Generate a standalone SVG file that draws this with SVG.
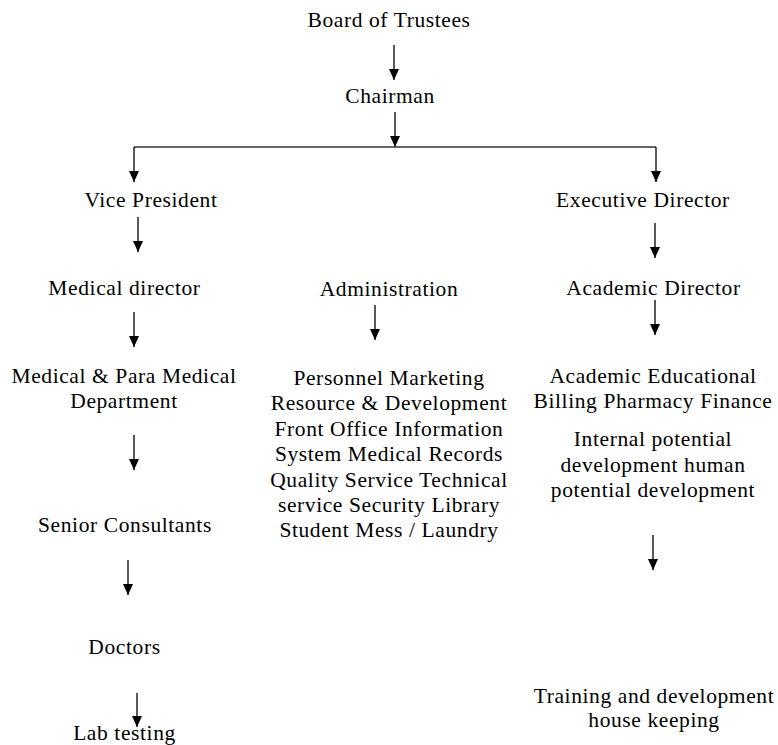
<svg xmlns="http://www.w3.org/2000/svg" width="778" height="745" viewBox="0 0 778 745">
<defs>
<style>
text{font-family:"Liberation Serif","Times New Roman",serif;font-size:21.5px;fill:#000;text-anchor:middle;letter-spacing:0.6px}
.c line,.c path{stroke:#000;stroke-width:1.3;fill:none}
</style>
<marker id="ah" viewBox="0 0 11 10" markerWidth="11" markerHeight="10" refX="11" refY="5" orient="auto" markerUnits="userSpaceOnUse">
<path d="M0,0 L11,5 L0,10 z" fill="#000"/>
</marker>
</defs>
<rect width="778" height="745" fill="#fff"/>
<g class="c" id="connectors">
<line x1="394" y1="45" x2="394" y2="80" marker-end="url(#ah)"/>
<line x1="395" y1="112" x2="395" y2="147" marker-end="url(#ah)"/>
<line x1="134" y1="147" x2="656" y2="147" style="stroke:#333"/>
<line x1="134" y1="147" x2="134" y2="182" marker-end="url(#ah)"/>
<line x1="656" y1="147" x2="656" y2="182" marker-end="url(#ah)"/>
<line x1="138" y1="217" x2="138" y2="252" marker-end="url(#ah)"/>
<line x1="134" y1="312" x2="134" y2="347" marker-end="url(#ah)"/>
<line x1="134" y1="435" x2="134" y2="470" marker-end="url(#ah)"/>
<line x1="128" y1="560" x2="128" y2="595" marker-end="url(#ah)"/>
<line x1="137" y1="693" x2="137" y2="727" marker-end="url(#ah)"/>
<line x1="375" y1="305" x2="375" y2="340" marker-end="url(#ah)"/>
<line x1="655" y1="223" x2="655" y2="258" marker-end="url(#ah)"/>
<line x1="655" y1="300" x2="655" y2="335" marker-end="url(#ah)"/>
<line x1="653" y1="535" x2="653" y2="570" marker-end="url(#ah)"/>
</g>
<g id="board"><text x="389" y="27">Board of Trustees</text></g>
<g id="chairman"><text x="390" y="103">Chairman</text></g>
<g id="vice-president"><text x="151" y="207">Vice President</text></g>
<g id="executive-director"><text x="643" y="207">Executive Director</text></g>
<g id="medical-director"><text x="124.5" y="295">Medical director</text></g>
<g id="administration"><text x="389" y="296">Administration</text></g>
<g id="academic-director"><text x="653.5" y="295">Academic Director</text></g>
<g id="medical-dept"><text x="124" y="383">Medical &amp; Para Medical</text><text x="124" y="408">Department</text></g>
<g id="admin-list">
<text x="389" y="385">Personnel Marketing</text>
<text x="389" y="410">Resource &amp; Development</text>
<text x="389" y="436">Front Office Information</text>
<text x="389" y="461">System Medical Records</text>
<text x="389" y="487">Quality Service Technical</text>
<text x="389" y="512">service Security Library</text>
<text x="389" y="537">Student Mess / Laundry</text>
</g>
<g id="academic-list">
<text x="653" y="383">Academic Educational</text>
<text x="653" y="408">Billing Pharmacy Finance</text>
</g>
<g id="internal-potential">
<text x="653" y="446">Internal potential</text>
<text x="653" y="472">development human</text>
<text x="653" y="497">potential development</text>
</g>
<g id="senior-consultants"><text x="125" y="532">Senior Consultants</text></g>
<g id="doctors"><text x="124.5" y="654">Doctors</text></g>
<g id="lab-testing"><text x="124.5" y="740">Lab testing</text></g>
<g id="training"><text x="654" y="703">Training and development</text><text x="654" y="727">house keeping</text></g>
</svg>
